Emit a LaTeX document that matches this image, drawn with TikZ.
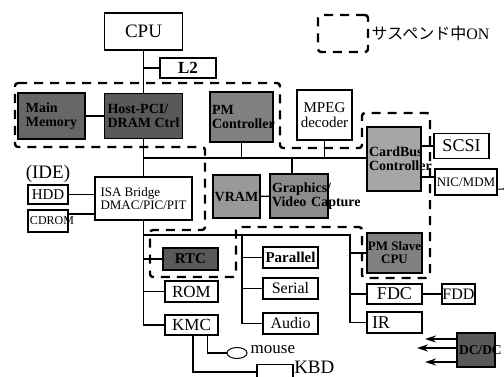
\documentclass[tikz,border=0pt]{standalone}
\usepackage{fontspec}
\setmainfont{Liberation Serif}
\newfontfamily\jpfont{Noto Sans CJK JP}
\usetikzlibrary{shapes.geometric,arrows.meta}
\newcommand\fsz[1]{\fontsize{#1}{#1}\selectfont}
\begin{document}
\begin{tikzpicture}[x=1pt,y=-1pt,line width=1.4pt,
  every node/.style={inner sep=0pt},
  box/.style={draw,line width=1.1pt,align=center},
  gbox/.style={box,fill=black!#1,font=\bfseries\fsz{14}},
  sz/.style 2 args={minimum width=#1pt,minimum height=#2pt},
  lft/.style={text width=#1pt,inner xsep=2pt,align=left},
  sus/.style={line width=2.4pt,dash pattern=on 9pt off 7pt,rounded corners=3pt}]
  \path[use as bounding box] (0,0) rectangle (504,376);
  \node[box,sz={78}{37},font=\fsz{19}] (cpu) at (143.5,31.5) {CPU};
  \node[box,sz={56}{20},font=\bfseries\fsz{17}] (l2) at (188,68) {L2};
  \node[gbox=60,sz={67}{46},align=left] (mm) at (51.5,116) {Main\\Memory};
  \node[gbox=65,sz={78}{45},align=left] (hb) at (143.5,116) {Host-PCI/\\DRAM Ctrl};
  \node[gbox=50,sz={63}{50},lft=59] (pmc) at (241.5,117) {PM\\\mbox{Controller}};
  \node[box,sz={55}{50},font=\fsz{15}] (mpeg) at (324.5,115) {MPEG\\decoder};
  \node[gbox=35,sz={54}{64},lft=50] (cbc) at (394,159) {CardBus\\\mbox{Controller}};
  \node[box,sz={55}{25},font=\fsz{18}] (scsi) at (461.5,146) {SCSI};
  \node[box,sz={62}{26},font=\fsz{13}] (nic) at (466,182) {NIC/MDM};
  \node[gbox=40,sz={47}{43}] (vram) at (236.5,196.5) {VRAM};
  \node[gbox=45,sz={58}{44},lft=54] (gvc) at (299,196) {Graphics/\\\mbox{Video Capture}};
  \node[box,sz={97}{43},font=\fsz{13},align=left] (isa) at (143.5,198.5) {ISA Bridge\\DMAC/PIC/PIT};
  \node[font=\fsz{19}] (ide) at (48,174) {(IDE)};
  \node[box,sz={40}{19},font=\fsz{15}] (hdd) at (48,194.5) {HDD};
  \node[box,sz={40}{22},lft=36,font=\fsz{12}] (cdrom) at (48,221) {CDROM};
  \node[gbox=65,sz={55}{22},font=\bfseries\fsz{15}] (rtc) at (190.5,259) {RTC};
  \node[box,sz={53}{21},font=\fsz{17}] (rom) at (191.5,291.5) {ROM};
  \node[box,sz={53}{20},font=\fsz{17}] (kmc) at (191.5,325) {KMC};
  \node[box,sz={55}{21},font=\bfseries\fsz{15}] (par) at (290.5,257.5) {Parallel};
  \node[box,sz={55}{21},font=\fsz{16}] (ser) at (290.5,288.5) {Serial};
  \node[box,sz={55}{21},font=\fsz{16}] (aud) at (290.5,323.5) {Audio};
  \node[gbox=50,sz={55}{40},font=\bfseries\fsz{13}] (pms) at (394.5,253) {PM Slave\\CPU};
  \node[box,sz={55}{20},font=\fsz{18}] (fdc) at (394.5,294) {FDC};
  \node[box,sz={33}{20},font=\fsz{16}] (fdd) at (458.5,294) {FDD};
  \node[box,sz={55}{21},lft=45,inner xsep=5pt,font=\fsz{18}] (ir) at (394.5,322.5) {IR};
  \node[gbox=65,sz={38}{34},lft=34,font=\bfseries\fsz{13.5}] (dcdc) at (476,350) {DC/DC};
  \node[draw,ellipse,line width=1pt,sz={20}{11}] (mouse) at (237,353) {};
  \node[anchor=west,font=\fsz{17}] (mtxt) at (250,350) {mouse};
  \node[box,sz={36}{15}] (kbd) at (275,372) {};
  \node[anchor=west,font=\fsz{19}] (ktxt) at ([yshift=5pt]kbd.east) {KBD};
  \node[draw,sus,sz={50}{37}] (leg) at (343,33.5) {};
  \node[anchor=west,font=\fsz{16}] (ltxt) at (371,33) {{\jpfont サスペンド中}ON};
  \coordinate (pci) at (143.5,158);
  \coordinate (isab) at (143.5,235);
  \coordinate (iob) at (242,235);
  \coordinate (fdb) at (350,235);
  \coordinate (o1) at (425,339);
  \coordinate (o2) at (417,348);
  \coordinate (o3) at (425,362);
  \draw (cpu) -- (hb);
  \draw (cpu.south |- l2) -- (l2);
  \draw (mm) -- (hb);
  \draw (hb) -- (isa);
  \draw (pci) -- (pci -| cbc.west);
  \draw (pmc) -- (pmc |- pci);
  \draw (mpeg) -- (mpeg |- pci);
  \draw ([xshift=-7pt]gvc.north) -- ([xshift=-7pt]gvc.north |- pci);
  \draw (vram) -- (gvc);
  \draw (cbc.east |- scsi) -- (scsi);
  \draw ([yshift=5pt]nic.west -| cbc.east) -- ([yshift=5pt]nic.west);
  \draw[line width=1pt] ([yshift=-7pt]nic.east) -- ++(6,0) -- ++(2,-3) -- ++(4,0);
  \draw (hdd) -- (hdd -| isa.west);
  \draw ([yshift=7pt]cdrom.east) -- ([yshift=7pt]cdrom.east -| isa.west);
  \draw (isa) -- (isa |- kmc) -- (kmc);
  \draw (isab |- rtc) -- (rtc);
  \draw (isab |- rom) -- (rom);
  \draw (isab) -- (fdb) -- (fdb |- ir) -- (ir);
  \draw (iob) -- (iob |- aud) -- (aud);
  \draw (iob |- par) -- (par);
  \draw (iob |- ser) -- (ser);
  \draw (fdb |- pms) -- (pms);
  \draw (fdb |- fdc) -- (fdc);
  \draw (fdc) -- (fdd);
  \draw ([xshift=16pt]kmc.south) |- (mouse);
  \draw ([xshift=1.5pt]kmc.south) |- (kbd);
  \foreach \i in {1,2,3}
    \draw[-{Stealth[length=11pt,width=7pt]}] (dcdc.west |- o\i) -- (o\i);
  \draw[sus] (15,83) -- (280,83) -- (280,148) -- (362,148) -- (362,113) -- (430,113)
    -- (430,278) -- (362,278) -- (362,227) -- (236,227) -- (236,277) -- (150,277)
    -- (150,230) -- (205,230) -- (205,147) -- (15,147) -- cycle;
\end{tikzpicture}
\end{document}
